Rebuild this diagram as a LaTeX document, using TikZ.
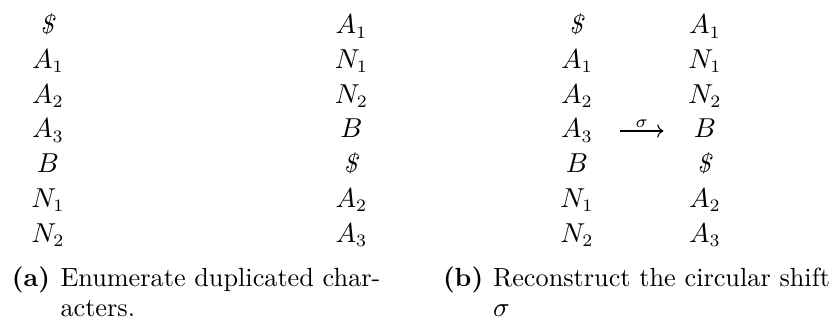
\documentclass[tikz,border=0pt]{standalone}
\usetikzlibrary{arrows.meta}

\tikzset{
  entry/.style={anchor=base,inner sep=0pt,outer sep=0pt,font=\fontsize{10.5}{12}\selectfont},
  caplabel/.style={anchor=base west,inner sep=0pt,font=\fontsize{10.5}{12}\selectfont\bfseries},
  captext/.style={anchor=base west,inner sep=0pt,align=left,font=\fontsize{10.5}{12}\selectfont},
}

\begin{document}
\begin{tikzpicture}[x=1pt,y=1pt]
\useasboundingbox (0,0) rectangle (332.8,-128);

% (a) left column
\node[entry] (la0) at (19.2,-13.6) {\textit{\$}};
\node[entry] (la1) at (19.2,-27.4) {$A_1$};
\node[entry] (la2) at (19.2,-41.3) {$A_2$};
\node[entry] (la3) at (19.2,-55.2) {$A_3$};
\node[entry] (la4) at (19.2,-69.1) {$B$};
\node[entry] (la5) at (19.2,-83.0) {$N_1$};
\node[entry] (la6) at (19.2,-96.9) {$N_2$};

% (a) right column
\node[entry] (ra0) at (140.6,-13.6) {$A_1$};
\node[entry] (ra1) at (140.6,-27.4) {$N_1$};
\node[entry] (ra2) at (140.6,-41.3) {$N_2$};
\node[entry] (ra3) at (140.6,-55.2) {$B$};
\node[entry] (ra4) at (140.6,-69.1) {\textit{\$}};
\node[entry] (ra5) at (140.6,-83.0) {$A_2$};
\node[entry] (ra6) at (140.6,-96.9) {$A_3$};

% (b) left column
\node[entry] (lb0) at (230.8,-13.6) {\textit{\$}};
\node[entry] (lb1) at (230.8,-27.4) {$A_1$};
\node[entry] (lb2) at (230.8,-41.3) {$A_2$};
\node[entry] (lb3) at (230.8,-55.2) {$A_3$};
\node[entry] (lb4) at (230.8,-69.1) {$B$};
\node[entry] (lb5) at (230.8,-83.0) {$N_1$};
\node[entry] (lb6) at (230.8,-96.9) {$N_2$};

% (b) right column
\node[entry] (rb0) at (282,-13.6) {$A_1$};
\node[entry] (rb1) at (282,-27.4) {$N_1$};
\node[entry] (rb2) at (282,-41.3) {$N_2$};
\node[entry] (rb3) at (282,-55.2) {$B$};
\node[entry] (rb4) at (282,-69.1) {\textit{\$}};
\node[entry] (rb5) at (282,-83.0) {$A_2$};
\node[entry] (rb6) at (282,-96.9) {$A_3$};

% shift arrow
\coordinate (sfrom) at (248,-52.4);
\coordinate (sto) at (265.4,-52.4);
\draw[line width=0.42pt,-{Computer Modern Rightarrow}] (sfrom) -- node[above=1.2pt,inner sep=0pt,font=\fontsize{10.5}{12}\selectfont] {$\scriptstyle\sigma$} (sto);

% captions
\node[caplabel] (capa) at (4.6,-114.6) {(a)};
\node[captext] (capatext) at (24,-126.6) {Enumerate duplicated char-\\acters.};
\node[caplabel] (capb) at (177,-114.6) {(b)};
\node[captext] (capbtext) at (197,-126.6) {Reconstruct the circular shift\\$\sigma$};

\end{tikzpicture}
\end{document}
